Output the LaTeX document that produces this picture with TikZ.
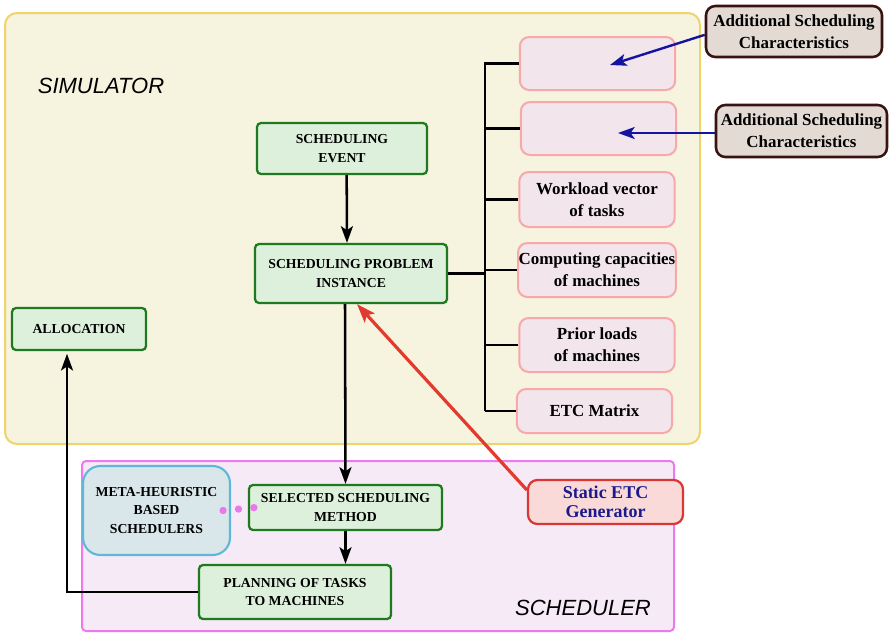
\documentclass[tikz,border=0pt]{standalone}
\usepackage{fontspec}
\setmainfont{Liberation Serif}
\newfontfamily\titlefont{Liberation Sans}
\usetikzlibrary{arrows.meta}
\definecolor{simfill}{HTML}{F6F3DE}
\definecolor{simdraw}{HTML}{EFD46C}
\definecolor{schedfill}{HTML}{F7EAF7}
\definecolor{scheddraw}{HTML}{EE78EE}
\definecolor{greenfill}{HTML}{DDF0DB}
\definecolor{greendraw}{HTML}{1F7A1F}
\definecolor{pinkfill}{HTML}{F2E5EC}
\definecolor{pinkdraw}{HTML}{F8A8A8}
\definecolor{brownfill}{HTML}{E3DBD3}
\definecolor{browndraw}{HTML}{3B1212}
\definecolor{metafill}{HTML}{D9E6EA}
\definecolor{metadraw}{HTML}{60B8D8}
\definecolor{etcfill}{HTML}{FAD9D9}
\definecolor{etcdraw}{HTML}{D93636}
\definecolor{etcline}{HTML}{E33A2E}
\definecolor{etctext}{HTML}{1A1A8C}
\definecolor{charline}{HTML}{1414A0}
\definecolor{linkpink}{HTML}{E879E8}
\newcommand\stepfont{\bfseries\fontsize{10.3}{13.8}\selectfont}
\newcommand\paramfont{\bfseries\fontsize{12.7}{16.3}\selectfont}
\newcommand\etcfont{\bfseries\fontsize{13.5}{14.5}\selectfont}
\newcommand\areafont{\titlefont\itshape\fontsize{16.5}{19}\selectfont}
\begin{document}
\begin{tikzpicture}[x=0.75pt,y=-0.75pt,
    simarea/.style={draw=simdraw,fill=simfill,line width=1.5pt,rounded corners=9pt},
    schedarea/.style={draw=scheddraw,fill=schedfill,line width=1.5pt,rounded corners=3pt},
    stepbox/.style={draw=greendraw,fill=greenfill,line width=1.7pt,rounded corners=3pt,align=center,font=\stepfont,inner sep=1pt},
    parambox/.style={draw=pinkdraw,fill=pinkfill,line width=1.5pt,rounded corners=7pt,align=center,font=\paramfont,inner sep=0.5pt,minimum width=116.5pt},
    charbox/.style={draw=browndraw,fill=brownfill,line width=1.9pt,rounded corners=7pt,align=center,font=\paramfont,inner sep=1pt},
    metabox/.style={draw=metadraw,fill=metafill,line width=1.6pt,rounded corners=13pt,align=center,font=\stepfont,inner sep=1pt},
    etcbox/.style={draw=etcdraw,fill=etcfill,line width=1.7pt,rounded corners=7pt,align=center,font=\etcfont,text=etctext,inner sep=1pt},
    arr/.style={-{Stealth[length=12.5pt,width=9pt,inset=3pt]},line width=1.9pt,black},
    chararr/.style={-{Stealth[length=12.5pt,width=9pt,inset=3pt]},line width=1.8pt,charline},
    etcarr/.style={-{Stealth[length=14pt,width=10pt,inset=3pt]},line width=2.4pt,etcline},
    bus/.style={line width=1.9pt,black},
    linkdots/.style={linkpink,line width=5.5pt,line cap=round,dash pattern=on 0pt off 11.6pt}]
    \useasboundingbox (0,0) rectangle (890,633);
    \draw[simarea] (5,13) rectangle (700,444);
    \draw[schedarea] (82,461) rectangle (674,631);
    \node[font=\areafont] (simlabel) at (101,86) {SIMULATOR};
    \node[font=\areafont] (schedlabel) at (583,608) {SCHEDULER};
    \node[stepbox,minimum width=127.5pt,minimum height=38.25pt] (event) at (342,148.5) {SCHEDULING\\EVENT};
    \node[stepbox,minimum width=144pt,minimum height=44.25pt] (inst) at (351,273.5) {SCHEDULING PROBLEM\\INSTANCE};
    \node[stepbox,minimum width=100.5pt,minimum height=31.5pt] (alloc) at (79,329) {ALLOCATION};
    \node[stepbox,minimum width=144.75pt,minimum height=33.75pt] (sel) at (345.5,507.5) {SELECTED SCHEDULING\\METHOD};
    \node[stepbox,minimum width=144pt,minimum height=40.5pt] (plan) at (295,592) {PLANNING OF TASKS\\TO MACHINES};
    \node[metabox,minimum width=110.25pt,minimum height=66.75pt] (meta) at (156.5,510.5) {META-HEURISTIC\\BASED\\SCHEDULERS};
    \node[parambox,minimum height=39.75pt] (c1) at (597.5,63.5) {};
    \node[parambox,minimum height=39.75pt] (c2) at (598.5,128.5) {};
    \node[parambox,minimum height=41.25pt] (c3) at (597,199.5) {Workload vector\\of tasks};
    \node[parambox,minimum height=40.5pt] (c4) at (597,270) {Computing capacities\\of machines};
    \node[parambox,minimum height=40.5pt] (c5) at (597,345) {Prior loads\\of machines};
    \node[parambox,minimum height=33pt] (c6) at (594.5,411) {ETC Matrix};
    \node[charbox,minimum width=132pt,minimum height=38.25pt] (addA) at (794,31.5) {Additional Scheduling\\Characteristics};
    \node[charbox,minimum width=128.25pt,minimum height=39pt] (addB) at (801.5,131) {Additional Scheduling\\Characteristics};
    \node[etcbox,minimum width=116.25pt,minimum height=33pt] (etc) at (605.5,502) {Static ETC\\Generator};
    \coordinate (bustop) at (485,62);
    \coordinate (c1tip) at (610,65);
    \coordinate (c2tip) at (618,133);
    \draw[bus] (bustop) -- (bustop |- c6.west);
    \draw[bus] (inst.east) -- (inst.east -| bustop);
    \foreach \c in {c1,c2,c3,c4,c5,c6}
        \draw[bus] (bustop |- \c.west) -- (\c.west);
    \draw[chararr] ([yshift=-2.5pt]addA.west) -- (c1tip);
    \draw[chararr] ([yshift=-1.5pt]addB.west) -- (c2tip);
    \draw[arr] ([xshift=3.5pt]event.south) -- ([xshift=-3pt]inst.north);
    \draw[arr] ([xshift=-4.5pt]inst.south) -- (sel.north);
    \draw[arr] (sel.south) -- (sel.south |- plan.north);
    \draw[arr] (plan.west) -| ([xshift=-9pt,yshift=-2pt]alloc.south);
    \draw[etcarr] ([yshift=9pt]etc.west) -- ([xshift=4.5pt]inst.south);
    \draw[linkdots] ([xshift=-6pt]meta.east) -- ([xshift=5.5pt]sel.west);
\end{tikzpicture}
\end{document}
